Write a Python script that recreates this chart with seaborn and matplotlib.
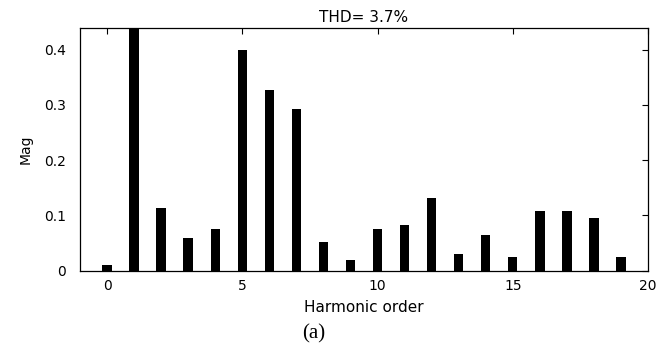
import matplotlib
matplotlib.use("Agg")
import matplotlib.pyplot as plt
import seaborn as sns
import pandas as pd

harmonic_order = list(range(20))
magnitude = [0.010, 1.000, 0.114, 0.059, 0.076, 0.400, 0.327, 0.293, 0.052, 0.019,
             0.076, 0.082, 0.131, 0.029, 0.064, 0.025, 0.108, 0.108, 0.095, 0.025]
y_ticks = [0, 0.1, 0.2, 0.3, 0.4]
y_tick_labels = ["0", "0.1", "0.2", "0.3", "0.4"]
x_ticks = [0, 5, 10, 15, 20]
title_text = "THD= 3.7%"

df = pd.DataFrame({"order": harmonic_order, "mag": magnitude})

sns.set_style("white")
plt.rcParams["font.family"] = ["DejaVu Sans"]
plt.rcParams["text.color"] = "black"
plt.rcParams["axes.labelcolor"] = "black"

fig = plt.figure(figsize=(6.7, 3.5), dpi=100)
ax = fig.add_axes([80 / 670, 1 - 270.5 / 350, (648 - 80) / 670, (270.5 - 28) / 350])

sns.barplot(data=df, x="order", y="mag", native_scale=True, width=0.35,
            color="black", saturation=1, edgecolor="black", linewidth=0, ax=ax)

ax.set_xlim(-1, 20)
ax.set_ylim(0, 0.439)
ax.set_xticks(x_ticks)
ax.set_xticklabels([str(t) for t in x_ticks])
ax.set_yticks(y_ticks)
ax.set_yticklabels(y_tick_labels)
ax.tick_params(direction="in", length=4, width=0.8, top=True, right=True,
               labelsize=10, colors="black")
ax.tick_params(axis="y", pad=10)
ax.tick_params(axis="x", pad=6)
for s in ax.spines.values():
    s.set_visible(True)
    s.set_color("black")
    s.set_linewidth(0.9)

ax.set_title(title_text, fontsize=11, pad=4, color="black")
ax.set_xlabel("Harmonic order", fontsize=11, labelpad=5, color="black")
ax.set_ylabel("Mag", fontsize=10, labelpad=8, color="black")
fig.text(314 / 670, 1 - 334 / 350, "(a)", ha="center", va="center",
         fontsize=15, color="black", family=["Liberation Serif", "DejaVu Serif"])

fig.savefig("out.png", dpi=100, facecolor="white")
